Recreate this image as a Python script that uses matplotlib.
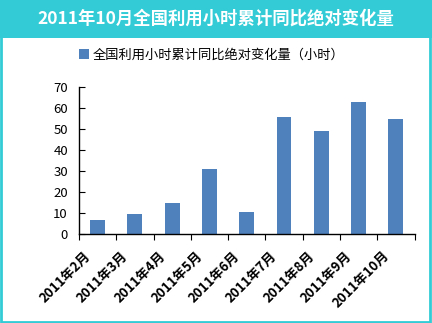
import matplotlib.pyplot as plt
from matplotlib.patches import Rectangle

plt.rcParams['font.family'] = ['Noto Sans CJK SC', 'DejaVu Sans']

# 月份和累计同比绝对变化量（小时）
months = ['2011年2月', '2011年3月', '2011年4月', '2011年5月', '2011年6月',
          '2011年7月', '2011年8月', '2011年9月', '2011年10月']
hours = [6.7, 9.5, 14.8, 31.0, 10.5, 55.8, 49.2, 63.0, 54.9]

title = '2011年10月全国利用小时累计同比绝对变化量'
legend_label = '全国利用小时累计同比绝对变化量（小时）'

bar_color = '#4F81BD'
frame_color = '#33CCD6'

fig = plt.figure(figsize=(4.32, 3.23), dpi=100)
W, H = 432, 323

# 外框和标题栏
fig.patches.append(Rectangle((1 / W, 1 / H), 1 - 3 / W, 1 - 3 / H, transform=fig.transFigure,
                             fill=False, edgecolor=frame_color, linewidth=2))
fig.patches.append(Rectangle((0, 1 - 38 / H), 1, 38 / H, transform=fig.transFigure,
                             facecolor=frame_color, edgecolor='none'))
fig.text(0.5, 1 - 19 / H, title, color='white', fontsize=12.5, fontweight='bold',
         ha='center', va='center')

ax = fig.add_axes([79 / W, (H - 234) / H, (414.5 - 79) / W, (234 - 87) / H])
x = list(range(len(months)))
ax.bar(x, hours, width=0.4, color=bar_color, label=legend_label)
ax.set_xlim(-0.5, len(months) - 0.5)
ax.set_ylim(0, 70)
ax.set_yticks(range(0, 71, 10))
ax.tick_params(axis='y', direction='in', length=4, labelsize=9.5, pad=8)
ax.set_xticks([i - 0.5 for i in range(len(months) + 1)])
ax.set_xticklabels([])
ax.tick_params(axis='x', direction='out', length=4)
for i, m in enumerate(months):
    ax.text(i - 0.38, -7, m, rotation=45, ha='right', va='top',
            fontsize=9.5, fontweight='bold', rotation_mode='anchor')
for s in ['top', 'right']:
    ax.spines[s].set_visible(False)
for s in ['left', 'bottom']:
    ax.spines[s].set_linewidth(1)

fig.legend(loc='center left', bbox_to_anchor=(74 / W, 1 - 55 / H), frameon=False,
           fontsize=9.5, handlelength=0.7, handleheight=0.7, handletextpad=0.3,
           borderaxespad=0)

fig.savefig('out.png', dpi=100)
